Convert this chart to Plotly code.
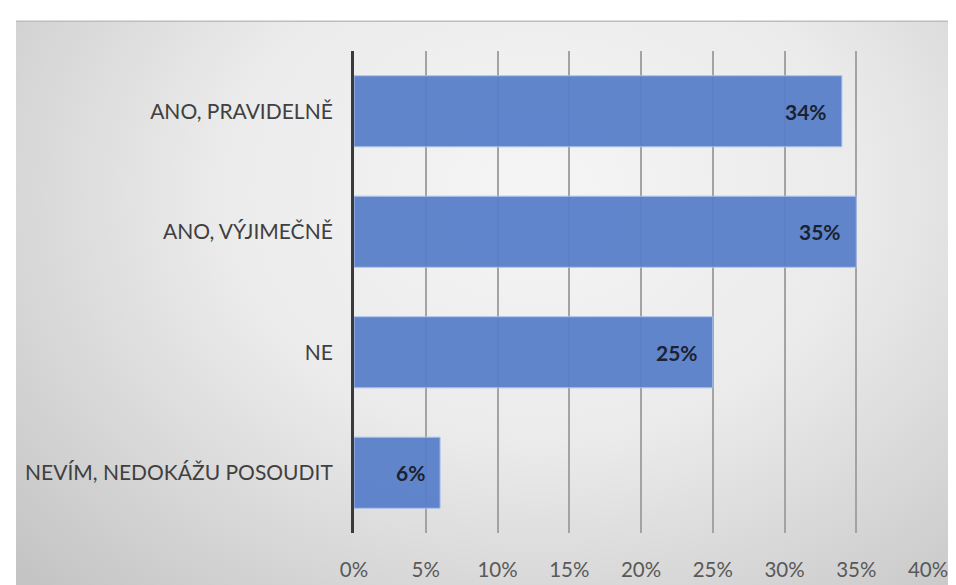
import plotly.graph_objects as go
import urllib.parse

categories = ["ANO, PRAVIDELNĚ", "ANO, VÝJIMEČNĚ", "NE", "NEVÍM, NEDOKÁŽU POSOUDIT"]
values = [34, 35, 25, 6]
tick_vals = [0, 5, 10, 15, 20, 25, 30, 35, 40]
tick_text = ["0%", "5%", "10%", "15%", "20%", "25%", "30%", "35%", "40%"]

W, H = 956, 585
L, R, T, B = 346, 36, 43, 57
pw, ph = W - L - R, H - T - B

def px_x(px):
    return (px - L) / pw

def px_y(py):
    return (H - B - py) / ph

svg = (
    "<svg xmlns='http://www.w3.org/2000/svg' width='948' height='572' viewBox='0 0 948 572' preserveAspectRatio='none'>"
    "<defs><radialGradient id='g' cx='0.55' cy='0.3' r='0.75' gradientTransform='translate(0.55 0.3) scale(1 1.3) translate(-0.55 -0.3)'>"
    "<stop offset='0' stop-color='#f5f5f5'/>"
    "<stop offset='0.45' stop-color='#ebebeb'/>"
    "<stop offset='1' stop-color='#c4c4c4'/>"
    "</radialGradient></defs>"
    "<rect width='948' height='572' fill='url(#g)'/></svg>"
)
src = "data:image/svg+xml;charset=utf-8," + urllib.parse.quote(svg)

fig = go.Figure()
fig.add_trace(go.Bar(
    x=values, y=categories, orientation="h",
    marker=dict(color="#5a80ca", line=dict(color="#a9c2ec", width=1)),
    opacity=0.95,
    width=0.59,
    hoverinfo="skip",
))

for c, v in zip(categories, values):
    fig.add_annotation(
        x=v, y=c, xref="x", yref="y", text=f"<b>{v}%</b>",
        xanchor="right", xshift=-13, showarrow=False,
        font=dict(family="Lato, Open Sans, sans-serif", size=21, color="#1b2230"),
    )

fig.add_layout_image(dict(
    source=src, xref="paper", yref="paper",
    x=px_x(8), y=px_y(13), sizex=px_x(956) - px_x(8), sizey=px_y(13) - px_y(585),
    sizing="stretch", layer="below", xanchor="left", yanchor="top",
))

fig.add_shape(type="line", xref="paper", yref="paper",
              x0=px_x(8), x1=px_x(956), y0=px_y(13), y1=px_y(13),
              line=dict(color="#bdbdbd", width=1.5))

fig.update_layout(
    width=W, height=H,
    margin=dict(l=L, r=R, t=T, b=B),
    paper_bgcolor="white",
    plot_bgcolor="rgba(0,0,0,0)",
    showlegend=False,
    font=dict(family="Lato, Open Sans, sans-serif"),
    xaxis=dict(
        range=[0, 40], tickvals=tick_vals, ticktext=tick_text,
        showgrid=True, gridcolor="#a3a3a3", gridwidth=1.5,
        zeroline=False, showline=False,
        ticks="outside", ticklen=18, tickcolor="rgba(0,0,0,0)",
        tickfont=dict(size=20.5, color="#595959"),
        fixedrange=True,
    ),
    yaxis=dict(
        categoryorder="array", categoryarray=categories[::-1],
        showline=True, linecolor="#3a3a3a", linewidth=3,
        showgrid=False, zeroline=False,
        ticks="outside", ticklen=14, tickcolor="rgba(0,0,0,0)",
        tickfont=dict(size=21, color="#404040"),
        fixedrange=True,
    ),
)

fig.write_html("out.html")
